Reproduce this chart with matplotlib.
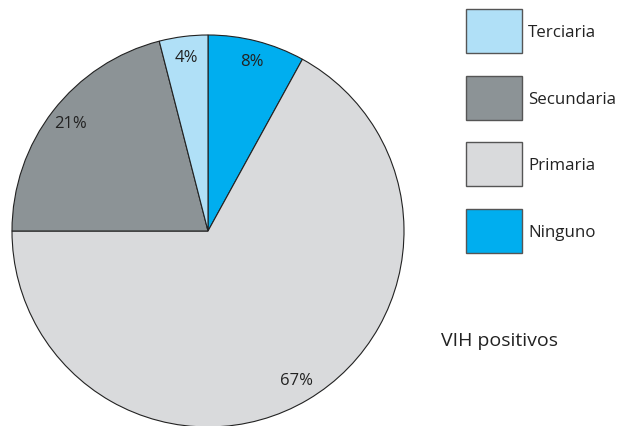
import matplotlib
matplotlib.use("Agg")
import matplotlib.pyplot as plt
from matplotlib.patches import Rectangle

categories = ["Ninguno", "Primaria", "Secundaria", "Terciaria"]
values = [8, 67, 21, 4]
colors = ["#00AEEF", "#D9DADC", "#8C9396", "#B0E0F7"]
title = "VIH positivos"

plt.rcParams['font.family'] = ['Open Sans', 'DejaVu Sans']

fig = plt.figure(figsize=(6.2, 4.26), dpi=100)
ax = fig.add_axes([0, 0, 1, 1])

wedges, texts, autotexts = ax.pie(
    values, colors=colors, startangle=90, counterclock=False,
    center=(208, 195), radius=196, frame=True,
    autopct=lambda p: f"{p:.0f}%", pctdistance=0.89,
    wedgeprops=dict(edgecolor="#222222", linewidth=0.8),
    textprops=dict(fontsize=12, color="#222222"))
ax.set_xlim(0, 620)
ax.set_ylim(0, 426)
ax.set_aspect('equal')
ax.axis('off')

# legend drawn manually (top to bottom: reversed category order)
box_x, box_w, box_h = 466, 56, 44
top = 426 - 9
pitch = 66.7
for i, (cat, col) in enumerate(zip(categories[::-1], colors[::-1])):
    y_top = top - i * pitch
    ax.add_patch(Rectangle((box_x, y_top - box_h), box_w, box_h,
                           facecolor=col, edgecolor="#555555", linewidth=1.0))
    ax.text(box_x + box_w + 6, y_top - box_h / 2 - 2, cat, fontsize=12.2,
            color="#222222", ha='left', va='center')

ax.text(441, 426 - 341, title, fontsize=14, color="#222222",
        ha='left', va='center')

fig.savefig("out.png", dpi=100)
